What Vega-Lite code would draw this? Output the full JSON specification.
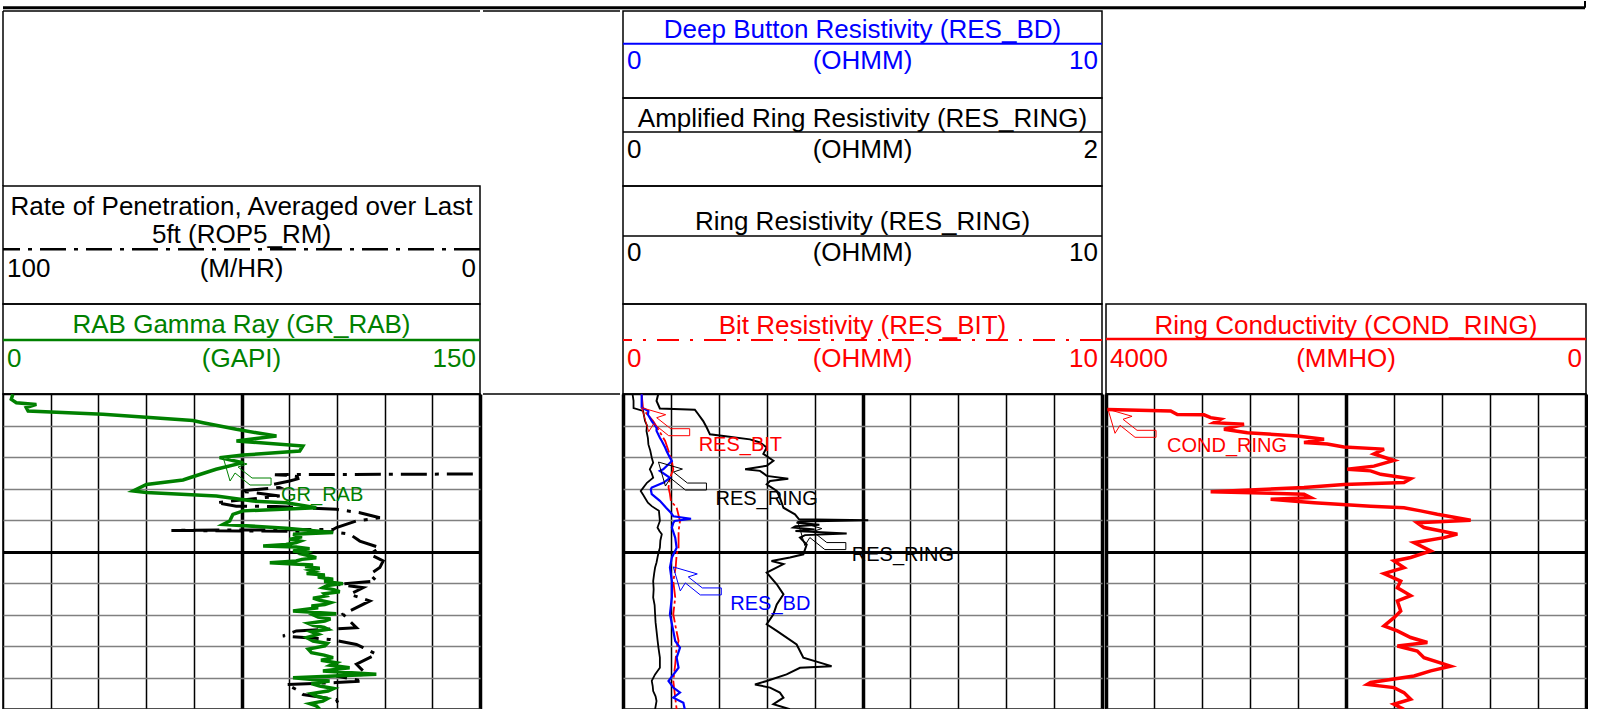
{
  "$schema": "https://vega.github.io/schema/vega-lite/v6.json",
  "padding": {"left": 1, "top": 0, "right": 0, "bottom": 0},
  "background": "white",
  "config": {
    "font": "Liberation Sans",
    "text": {"font": "Liberation Sans"},
    "view": {"stroke": "#000000", "strokeWidth": 1.5},
    "concat": {"spacing": 0}
  },
  "datasets": {
    "headers": [
      {"curve": "ROP5_RM", "title": "Rate of Penetration, Averaged over Last", "title2": "5ft (ROP5_RM)", "unit": "(M/HR)", "left": "100", "right": "0"},
      {"curve": "GR_RAB", "title": "RAB Gamma Ray (GR_RAB)", "unit": "(GAPI)", "left": "0", "right": "150"},
      {"curve": "RES_BD", "title": "Deep Button Resistivity (RES_BD)", "unit": "(OHMM)", "left": "0", "right": "10"},
      {"curve": "RES_RING_AMP", "title": "Amplified Ring Resistivity (RES_RING)", "unit": "(OHMM)", "left": "0", "right": "2"},
      {"curve": "RES_RING", "title": "Ring Resistivity (RES_RING)", "unit": "(OHMM)", "left": "0", "right": "10"},
      {"curve": "RES_BIT", "title": "Bit Resistivity (RES_BIT)", "unit": "(OHMM)", "left": "0", "right": "10"},
      {"curve": "COND_RING", "title": "Ring Conductivity (COND_RING)", "unit": "(MMHO)", "left": "4000", "right": "0"}
    ],
    "callouts": [
      {"track": "gr", "label": "GR_RAB", "DEPTH": 20.0, "value": 69.2},
      {"track": "res10", "label": "RES_BIT", "DEPTH": 4.35, "value": 0.39},
      {"track": "res10", "label": "RES_RING", "DEPTH": 21.6, "value": 0.74},
      {"track": "res2", "label": "RES_RING", "DEPTH": 40.5, "value": 0.73},
      {"track": "res10", "label": "RES_BD", "DEPTH": 54.9, "value": 1.05},
      {"track": "cond", "label": "COND_RING", "DEPTH": 4.86, "value": 3983}
    ],
    "gr": [
      {"DEPTH":0.1,"GR_RAB":3.1},{"DEPTH":1.7,"GR_RAB":2.6},{"DEPTH":2.8,"GR_RAB":4.2},{"DEPTH":3.3,"GR_RAB":10.5},{"DEPTH":4.3,"GR_RAB":7.3},{"DEPTH":5.4,"GR_RAB":7.9},{"DEPTH":6.4,"GR_RAB":31.4},{"DEPTH":8.4,"GR_RAB":59.7},{"DEPTH":9.1,"GR_RAB":62.9},{"DEPTH":11.2,"GR_RAB":73.4},{"DEPTH":12.3,"GR_RAB":79.7},{"DEPTH":13.3,"GR_RAB":86},{"DEPTH":14.9,"GR_RAB":73.4},{"DEPTH":16.5,"GR_RAB":94.3},{"DEPTH":18.1,"GR_RAB":93.3},{"DEPTH":19.4,"GR_RAB":75.5},{"DEPTH":20.2,"GR_RAB":68.1},{"DEPTH":21.8,"GR_RAB":75.5},{"DEPTH":23.9,"GR_RAB":67},{"DEPTH":26.6,"GR_RAB":58.7},{"DEPTH":27.3,"GR_RAB":56.6},{"DEPTH":28.7,"GR_RAB":45.1},{"DEPTH":30.8,"GR_RAB":40.9},{"DEPTH":31.3,"GR_RAB":45.1},{"DEPTH":32.4,"GR_RAB":67.1},{"DEPTH":34,"GR_RAB":78.6},{"DEPTH":34.5,"GR_RAB":89.1},{"DEPTH":36.1,"GR_RAB":98.5},{"DEPTH":37.1,"GR_RAB":75.5},{"DEPTH":38.2,"GR_RAB":72.3},{"DEPTH":40.3,"GR_RAB":71.3},{"DEPTH":41.4,"GR_RAB":69.2},{"DEPTH":42.6,"GR_RAB":89.1},{"DEPTH":44,"GR_RAB":103.8},
      {"DEPTH":44.55,"GR_RAB":91.2},{"DEPTH":45.3,"GR_RAB":94},{"DEPTH":46.14,"GR_RAB":90.1},{"DEPTH":46.7,"GR_RAB":93.5},{"DEPTH":47.2,"GR_RAB":92.2},{"DEPTH":47.8,"GR_RAB":89},{"DEPTH":48.25,"GR_RAB":81.8},{"DEPTH":48.57,"GR_RAB":92.2},{"DEPTH":49.1,"GR_RAB":96.4},{"DEPTH":49.84,"GR_RAB":91.2},{"DEPTH":50.4,"GR_RAB":95.5},{"DEPTH":50.9,"GR_RAB":94.3},{"DEPTH":51.5,"GR_RAB":97},{"DEPTH":51.96,"GR_RAB":98.5},{"DEPTH":52.5,"GR_RAB":94},{"DEPTH":53.0,"GR_RAB":92.2},{"DEPTH":53.54,"GR_RAB":83.9},{"DEPTH":54.28,"GR_RAB":97.5},{"DEPTH":54.8,"GR_RAB":95},{"DEPTH":55.3,"GR_RAB":99.6},{"DEPTH":55.9,"GR_RAB":96.5},{"DEPTH":56.4,"GR_RAB":98.0},{"DEPTH":57.0,"GR_RAB":95.5},{"DEPTH":57.46,"GR_RAB":101.2},{"DEPTH":58.1,"GR_RAB":99},{"DEPTH":58.8,"GR_RAB":103.8},{"DEPTH":59.5,"GR_RAB":101},{"DEPTH":60.2,"GR_RAB":106.9},{"DEPTH":60.8,"GR_RAB":102},{"DEPTH":61.48,"GR_RAB":100.6},{"DEPTH":62.1,"GR_RAB":104},{"DEPTH":62.75,"GR_RAB":105.9},{"DEPTH":63.4,"GR_RAB":101},{"DEPTH":64.1,"GR_RAB":101.7},{"DEPTH":64.8,"GR_RAB":97.5},{"DEPTH":65.5,"GR_RAB":99.6},{"DEPTH":66.2,"GR_RAB":103},{"DEPTH":66.8,"GR_RAB":101.2},{"DEPTH":67.3,"GR_RAB":97},{"DEPTH":67.83,"GR_RAB":99.1},{"DEPTH":68.9,"GR_RAB":91.2},{"DEPTH":69.73,"GR_RAB":104.8},{"DEPTH":70.3,"GR_RAB":98},{"DEPTH":70.8,"GR_RAB":99.1},{"DEPTH":71.4,"GR_RAB":103},{"DEPTH":72.06,"GR_RAB":101.2},{"DEPTH":72.8,"GR_RAB":96},{"DEPTH":73.44,"GR_RAB":97.5},{"DEPTH":74.1,"GR_RAB":101},{"DEPTH":74.7,"GR_RAB":102.2},{"DEPTH":75.5,"GR_RAB":97},{"DEPTH":76.3,"GR_RAB":99.1},{"DEPTH":77.3,"GR_RAB":95.5},{"DEPTH":78.4,"GR_RAB":97.5},{"DEPTH":79.2,"GR_RAB":102},{"DEPTH":80.0,"GR_RAB":101.2},{"DEPTH":81.0,"GR_RAB":96},{"DEPTH":82.1,"GR_RAB":97.0},{"DEPTH":82.9,"GR_RAB":101},{"DEPTH":83.7,"GR_RAB":103.8},{"DEPTH":84.5,"GR_RAB":100},{"DEPTH":85.3,"GR_RAB":104.8},{"DEPTH":86.1,"GR_RAB":103},{"DEPTH":86.9,"GR_RAB":109.0},{"DEPTH":87.9,"GR_RAB":100.6},{"DEPTH":89.0,"GR_RAB":117.4},{"DEPTH":90.05,"GR_RAB":91.2},{"DEPTH":91.1,"GR_RAB":102.7},{"DEPTH":91.9,"GR_RAB":97},{"DEPTH":92.7,"GR_RAB":99.6},{"DEPTH":93.5,"GR_RAB":104},{"DEPTH":94.3,"GR_RAB":102.2},{"DEPTH":95.1,"GR_RAB":97},{"DEPTH":95.9,"GR_RAB":98.5},{"DEPTH":96.7,"GR_RAB":102},{"DEPTH":97.5,"GR_RAB":100.6},{"DEPTH":98.3,"GR_RAB":96.5},{"DEPTH":99.0,"GR_RAB":98.5},{"DEPTH":100.1,"GR_RAB":99.6}
    ],
    "rop": [
      {"DEPTH":25.4,"ROP5_RM":1.5},{"DEPTH":25.6,"ROP5_RM":43.0},{"DEPTH":26.0,"ROP5_RM":39.2},{"DEPTH":26.5,"ROP5_RM":37.1},{"DEPTH":27.6,"ROP5_RM":39.9},{"DEPTH":28.7,"ROP5_RM":43.4},{"DEPTH":29.7,"ROP5_RM":42},{"DEPTH":30.8,"ROP5_RM":50.4},{"DEPTH":31.8,"ROP5_RM":44.8},{"DEPTH":32.4,"ROP5_RM":42},{"DEPTH":34.5,"ROP5_RM":55.3},{"DEPTH":35.6,"ROP5_RM":51.1},{"DEPTH":35.7,"ROP5_RM":42.7},{"DEPTH":36.1,"ROP5_RM":37.1},{"DEPTH":36.6,"ROP5_RM":30.1},{"DEPTH":37.7,"ROP5_RM":25.2},{"DEPTH":39.3,"ROP5_RM":21},{"DEPTH":40.3,"ROP5_RM":25.9},{"DEPTH":42.4,"ROP5_RM":30.1},{"DEPTH":43.0,"ROP5_RM":30.8},{"DEPTH":43.3,"ROP5_RM":64.7},{"DEPTH":43.7,"ROP5_RM":30.8},{"DEPTH":44.5,"ROP5_RM":27.3},{"DEPTH":46.7,"ROP5_RM":25.2},{"DEPTH":48.8,"ROP5_RM":21},{"DEPTH":50.9,"ROP5_RM":23.1},{"DEPTH":53,"ROP5_RM":20.3},{"DEPTH":55.1,"ROP5_RM":21},{"DEPTH":57.2,"ROP5_RM":23.1},{"DEPTH":59.4,"ROP5_RM":21.7},{"DEPTH":60.4,"ROP5_RM":30.1},{"DEPTH":61.5,"ROP5_RM":24.5},{"DEPTH":63.6,"ROP5_RM":27.3},{"DEPTH":65.7,"ROP5_RM":23.1},{"DEPTH":67.8,"ROP5_RM":25.9},{"DEPTH":69.9,"ROP5_RM":28.7},{"DEPTH":72.1,"ROP5_RM":27.3},{"DEPTH":74.2,"ROP5_RM":25.9},{"DEPTH":75.2,"ROP5_RM":38.5},{"DEPTH":76.8,"ROP5_RM":41.3},{"DEPTH":77.9,"ROP5_RM":31.5},{"DEPTH":79.5,"ROP5_RM":25.9},{"DEPTH":80.5,"ROP5_RM":24.5},{"DEPTH":82.6,"ROP5_RM":21.7},{"DEPTH":85.8,"ROP5_RM":25.9},{"DEPTH":89,"ROP5_RM":23.8},{"DEPTH":89.5,"ROP5_RM":30.1},{"DEPTH":91.1,"ROP5_RM":24.5},{"DEPTH":91.6,"ROP5_RM":30.1},{"DEPTH":92.2,"ROP5_RM":40.6},{"DEPTH":93.8,"ROP5_RM":38.5},{"DEPTH":95.4,"ROP5_RM":37.1},{"DEPTH":97,"ROP5_RM":30.1},{"DEPTH":99.6,"ROP5_RM":29.4}
    ],
    "bd": [
      {"DEPTH":0.1,"RES_BD":0.39},{"DEPTH":4.3,"RES_BD":0.39},{"DEPTH":5.4,"RES_BD":0.53},{"DEPTH":6.5,"RES_BD":0.52},{"DEPTH":8.6,"RES_BD":0.6},{"DEPTH":10.7,"RES_BD":0.7},{"DEPTH":11.7,"RES_BD":0.7},{"DEPTH":13.9,"RES_BD":0.77},{"DEPTH":14.9,"RES_BD":0.81},{"DEPTH":17.0,"RES_BD":0.88},{"DEPTH":18.1,"RES_BD":0.91},{"DEPTH":20.2,"RES_BD":0.98},{"DEPTH":21.3,"RES_BD":1.02},{"DEPTH":22.3,"RES_BD":0.95},{"DEPTH":23.9,"RES_BD":0.84},{"DEPTH":24.4,"RES_BD":0.77},{"DEPTH":26.6,"RES_BD":0.98},{"DEPTH":28.1,"RES_BD":0.85},{"DEPTH":29.7,"RES_BD":0.6},{"DEPTH":30.3,"RES_BD":0.58},{"DEPTH":31.8,"RES_BD":0.6},{"DEPTH":33.9,"RES_BD":0.77},{"DEPTH":36.1,"RES_BD":0.9},{"DEPTH":37.7,"RES_BD":1.0},{"DEPTH":38.8,"RES_BD":1.05},{"DEPTH":39.6,"RES_BD":1.42},{"DEPTH":40.3,"RES_BD":1.08},{"DEPTH":40.9,"RES_BD":1.05},{"DEPTH":42.4,"RES_BD":1.02},{"DEPTH":45.6,"RES_BD":1.09},{"DEPTH":48.8,"RES_BD":1.12},{"DEPTH":51.9,"RES_BD":1.02},{"DEPTH":55.1,"RES_BD":0.98},{"DEPTH":59.4,"RES_BD":1.02},{"DEPTH":64.6,"RES_BD":1.02},{"DEPTH":69.9,"RES_BD":0.98},{"DEPTH":75.2,"RES_BD":1.05},{"DEPTH":78.4,"RES_BD":1.09},{"DEPTH":80.5,"RES_BD":1.19},{"DEPTH":83.7,"RES_BD":1.12},{"DEPTH":86.9,"RES_BD":1.16},{"DEPTH":91.1,"RES_BD":0.95},{"DEPTH":93.2,"RES_BD":1.05},{"DEPTH":94.8,"RES_BD":1.19},{"DEPTH":96.4,"RES_BD":1.05},{"DEPTH":98,"RES_BD":1.26},{"DEPTH":100.1,"RES_BD":1.29}
    ],
    "bit": [
      {"DEPTH":0.1,"RES_BIT":0.39},{"DEPTH":4.9,"RES_BIT":0.42},{"DEPTH":8.6,"RES_BIT":0.63},{"DEPTH":14.9,"RES_BIT":0.88},{"DEPTH":21.2,"RES_BIT":1.02},{"DEPTH":24,"RES_BIT":1.05},{"DEPTH":26.6,"RES_BIT":0.98},{"DEPTH":29.7,"RES_BIT":0.95},{"DEPTH":31.8,"RES_BIT":0.98},{"DEPTH":34,"RES_BIT":1.0},{"DEPTH":36.1,"RES_BIT":1.12},{"DEPTH":40.3,"RES_BIT":1.19},{"DEPTH":43.5,"RES_BIT":1.16},{"DEPTH":48.8,"RES_BIT":1.16},{"DEPTH":50.9,"RES_BIT":1.12},{"DEPTH":55,"RES_BIT":1.1},{"DEPTH":59.4,"RES_BIT":1.05},{"DEPTH":64.6,"RES_BIT":1.09},{"DEPTH":69.9,"RES_BIT":1.05},{"DEPTH":74,"RES_BIT":1.1},{"DEPTH":78.4,"RES_BIT":1.16},{"DEPTH":80.5,"RES_BIT":1.12},{"DEPTH":85.8,"RES_BIT":1.09},{"DEPTH":91.1,"RES_BIT":1.05},{"DEPTH":96.4,"RES_BIT":1.09},{"DEPTH":100.1,"RES_BIT":1.12}
    ],
    "ring": [
      {"DEPTH":0.1,"RES_RING":0.2},{"DEPTH":2.2,"RES_RING":0.22},{"DEPTH":4.5,"RES_RING":0.22},{"DEPTH":5.4,"RES_RING":0.42},{"DEPTH":7,"RES_RING":0.44},{"DEPTH":8.6,"RES_RING":0.46},{"DEPTH":10,"RES_RING":0.5},{"DEPTH":11.7,"RES_RING":0.49},{"DEPTH":14,"RES_RING":0.52},{"DEPTH":16,"RES_RING":0.53},{"DEPTH":18,"RES_RING":0.57},{"DEPTH":20.2,"RES_RING":0.6},{"DEPTH":21.8,"RES_RING":0.63},{"DEPTH":23.9,"RES_RING":0.56},{"DEPTH":25.2,"RES_RING":0.6},{"DEPTH":26.6,"RES_RING":0.63},{"DEPTH":28.2,"RES_RING":0.5},{"DEPTH":29.8,"RES_RING":0.42},{"DEPTH":30.8,"RES_RING":0.37},{"DEPTH":32,"RES_RING":0.42},{"DEPTH":33,"RES_RING":0.46},{"DEPTH":34.5,"RES_RING":0.52},{"DEPTH":35.6,"RES_RING":0.6},{"DEPTH":37.1,"RES_RING":0.75},{"DEPTH":38.7,"RES_RING":0.76},{"DEPTH":40.3,"RES_RING":0.77},{"DEPTH":42.4,"RES_RING":0.72},{"DEPTH":43.5,"RES_RING":0.76},{"DEPTH":44.5,"RES_RING":0.81},{"DEPTH":46.5,"RES_RING":0.78},{"DEPTH":48.8,"RES_RING":0.77},{"DEPTH":50.5,"RES_RING":0.74},{"DEPTH":51.9,"RES_RING":0.72},{"DEPTH":53.5,"RES_RING":0.7},{"DEPTH":55.1,"RES_RING":0.67},{"DEPTH":57,"RES_RING":0.65},{"DEPTH":59.4,"RES_RING":0.63},{"DEPTH":62,"RES_RING":0.64},{"DEPTH":64.6,"RES_RING":0.63},{"DEPTH":67,"RES_RING":0.66},{"DEPTH":69.9,"RES_RING":0.67},{"DEPTH":72.5,"RES_RING":0.68},{"DEPTH":75.2,"RES_RING":0.7},{"DEPTH":78,"RES_RING":0.72},{"DEPTH":80.5,"RES_RING":0.74},{"DEPTH":83.7,"RES_RING":0.77},{"DEPTH":86.9,"RES_RING":0.77},{"DEPTH":89,"RES_RING":0.67},{"DEPTH":91.1,"RES_RING":0.6},{"DEPTH":92.7,"RES_RING":0.62},{"DEPTH":94.3,"RES_RING":0.63},{"DEPTH":96,"RES_RING":0.68},{"DEPTH":97.5,"RES_RING":0.7},{"DEPTH":100.1,"RES_RING":0.67}
    ],
    "ringa": [
      {"DEPTH":0.1,"RES_RING":0.147},{"DEPTH":2.2,"RES_RING":0.14},{"DEPTH":4.6,"RES_RING":0.154},{"DEPTH":5.0,"RES_RING":0.30},{"DEPTH":6.5,"RES_RING":0.315},{"DEPTH":8.6,"RES_RING":0.335},{"DEPTH":10.7,"RES_RING":0.35},{"DEPTH":12.8,"RES_RING":0.363},{"DEPTH":13.3,"RES_RING":0.42},{"DEPTH":14.4,"RES_RING":0.53},{"DEPTH":15.4,"RES_RING":0.572},{"DEPTH":17.0,"RES_RING":0.6},{"DEPTH":19.0,"RES_RING":0.586},{"DEPTH":21.2,"RES_RING":0.628},{"DEPTH":22.8,"RES_RING":0.6},{"DEPTH":23.9,"RES_RING":0.51},{"DEPTH":24.4,"RES_RING":0.572},{"DEPTH":26.0,"RES_RING":0.6},{"DEPTH":26.9,"RES_RING":0.69},{"DEPTH":27.6,"RES_RING":0.614},{"DEPTH":28.7,"RES_RING":0.6},{"DEPTH":30.8,"RES_RING":0.642},{"DEPTH":32.9,"RES_RING":0.655},{"DEPTH":36.1,"RES_RING":0.67},{"DEPTH":38.2,"RES_RING":0.718},{"DEPTH":39.8,"RES_RING":0.735},{"DEPTH":40.1,"RES_RING":1.024},{"DEPTH":40.5,"RES_RING":0.74},{"DEPTH":40.9,"RES_RING":0.725},{"DEPTH":41.5,"RES_RING":0.82},{"DEPTH":42.0,"RES_RING":0.72},{"DEPTH":42.4,"RES_RING":0.711},{"DEPTH":43.0,"RES_RING":0.80},{"DEPTH":43.5,"RES_RING":0.72},{"DEPTH":44.3,"RES_RING":0.934},{"DEPTH":44.8,"RES_RING":0.76},{"DEPTH":45.6,"RES_RING":0.739},{"DEPTH":47.8,"RES_RING":0.767},{"DEPTH":50.9,"RES_RING":0.753},{"DEPTH":51.9,"RES_RING":0.697},{"DEPTH":53,"RES_RING":0.62},{"DEPTH":54,"RES_RING":0.67},{"DEPTH":56.7,"RES_RING":0.6},{"DEPTH":60.4,"RES_RING":0.642},{"DEPTH":63.6,"RES_RING":0.67},{"DEPTH":66.8,"RES_RING":0.642},{"DEPTH":69.9,"RES_RING":0.628},{"DEPTH":73.1,"RES_RING":0.6},{"DEPTH":75.2,"RES_RING":0.642},{"DEPTH":79.5,"RES_RING":0.725},{"DEPTH":83.7,"RES_RING":0.753},{"DEPTH":86.4,"RES_RING":0.871},{"DEPTH":86.9,"RES_RING":0.739},{"DEPTH":89,"RES_RING":0.683},{"DEPTH":91.1,"RES_RING":0.6},{"DEPTH":92.2,"RES_RING":0.551},{"DEPTH":93.2,"RES_RING":0.614},{"DEPTH":94.8,"RES_RING":0.655},{"DEPTH":96.4,"RES_RING":0.67},{"DEPTH":98.5,"RES_RING":0.628},{"DEPTH":100.1,"RES_RING":0.697}
    ],
    "cond": [
      {"DEPTH":4.9,"COND_RING":3989},{"DEPTH":5.4,"COND_RING":3461},{"DEPTH":6.5,"COND_RING":3406},{"DEPTH":6.6,"COND_RING":3183},{"DEPTH":7.5,"COND_RING":3128},{"DEPTH":8.0,"COND_RING":3044},{"DEPTH":9.1,"COND_RING":3100},{"DEPTH":9.6,"COND_RING":2850},{"DEPTH":11.2,"COND_RING":3017},{"DEPTH":12.3,"COND_RING":2822},{"DEPTH":13.3,"COND_RING":2406},{"DEPTH":14.4,"COND_RING":2183},{"DEPTH":15.4,"COND_RING":2350},{"DEPTH":15.9,"COND_RING":2156},{"DEPTH":16.8,"COND_RING":2017},{"DEPTH":17.5,"COND_RING":1683},{"DEPTH":19.0,"COND_RING":1767},{"DEPTH":21.1,"COND_RING":1600},{"DEPTH":22.9,"COND_RING":1767},{"DEPTH":23.9,"COND_RING":1989},{"DEPTH":24.4,"COND_RING":1795},{"DEPTH":25.5,"COND_RING":1711},{"DEPTH":26.9,"COND_RING":1461},{"DEPTH":28.1,"COND_RING":1517},{"DEPTH":28.7,"COND_RING":2017},{"DEPTH":29.7,"COND_RING":2350},{"DEPTH":31.0,"COND_RING":3128},{"DEPTH":31.8,"COND_RING":2350},{"DEPTH":32.9,"COND_RING":2294},{"DEPTH":33.4,"COND_RING":2628},{"DEPTH":34.5,"COND_RING":2267},{"DEPTH":35.6,"COND_RING":1795},{"DEPTH":36.1,"COND_RING":1517},{"DEPTH":37.1,"COND_RING":1378},{"DEPTH":38.2,"COND_RING":1239},{"DEPTH":40.1,"COND_RING":961},{"DEPTH":40.9,"COND_RING":1406},{"DEPTH":42.4,"COND_RING":1350},{"DEPTH":44.5,"COND_RING":1072},{"DEPTH":45.6,"COND_RING":1183},{"DEPTH":47.2,"COND_RING":1433},{"DEPTH":49.8,"COND_RING":1294},{"DEPTH":51.9,"COND_RING":1461},{"DEPTH":53.0,"COND_RING":1600},{"DEPTH":55.1,"COND_RING":1517},{"DEPTH":57.0,"COND_RING":1683},{"DEPTH":59.4,"COND_RING":1544},{"DEPTH":61.5,"COND_RING":1572},{"DEPTH":64.0,"COND_RING":1461},{"DEPTH":65.7,"COND_RING":1572},{"DEPTH":68.9,"COND_RING":1544},{"DEPTH":71.0,"COND_RING":1600},{"DEPTH":73.6,"COND_RING":1683},{"DEPTH":75.2,"COND_RING":1572},{"DEPTH":77.3,"COND_RING":1461},{"DEPTH":78.9,"COND_RING":1322},{"DEPTH":80.0,"COND_RING":1572},{"DEPTH":81.6,"COND_RING":1406},{"DEPTH":83.7,"COND_RING":1350},{"DEPTH":86.4,"COND_RING":1128},{"DEPTH":87.9,"COND_RING":1294},{"DEPTH":89.5,"COND_RING":1433},{"DEPTH":91.6,"COND_RING":1795},{"DEPTH":92.2,"COND_RING":1822},{"DEPTH":93.2,"COND_RING":1600},{"DEPTH":94.8,"COND_RING":1517},{"DEPTH":96.9,"COND_RING":1461},{"DEPTH":98.5,"COND_RING":1600},{"DEPTH":100.1,"COND_RING":1517}
    ]
  },
  "spacing": 0,
  "vconcat": [
    {
      "width": 1582, "height": 8, "view": {"stroke": null}, "data": {"values": [{}]},
      "layer": [
        {"mark": {"type": "rule", "color": "#000000", "strokeWidth": 3}, "encoding": {"y": {"datum": 0.84, "type": "quantitative", "scale": {"domain": [0, 1], "reverse": true}, "axis": null}}},
        {"mark": {"type": "rule", "color": "#000000", "strokeWidth": 2}, "encoding": {"x": {"datum": 1, "type": "quantitative", "scale": {"domain": [0, 1]}, "axis": null}, "y": {"datum": 0, "type": "quantitative", "scale": {"domain": [0, 1], "reverse": true}, "axis": null}, "y2": {"datum": 0.84}}}
      ]
    },
    {
      "hconcat": [
        {
          "vconcat": [
            {
              "width": 477, "height": 175, "view": {"stroke": null}, "data": {"values": [{}]},
              "layer": [
                {"mark": {"type": "rule", "color": "#000000", "strokeWidth": 1.5}, "encoding": {"y": {"datum": 0, "type": "quantitative", "scale": {"domain": [0, 1], "reverse": true}, "axis": null}}},
                {"mark": {"type": "rule", "color": "#000000", "strokeWidth": 1.5}, "encoding": {"x": {"datum": 0, "type": "quantitative", "scale": {"domain": [0, 1]}, "axis": null}}}
              ]
            },
            {
              "width": 477, "height": 118, "data": {"name": "headers"}, "transform": [{"filter": "datum.curve === 'ROP5_RM'"}],
              "layer": [
                {"mark": {"type": "text", "fontSize": 26, "color": "#000000", "align": "center", "baseline": "middle"}, "encoding": {"text": {"field": "title"}, "x": {"datum": 0.5, "type": "quantitative", "scale": {"domain": [0, 1]}, "axis": null}, "y": {"datum": 0.182, "type": "quantitative", "scale": {"domain": [0, 1], "reverse": true}, "axis": null}}},
                {"mark": {"type": "text", "fontSize": 26, "color": "#000000", "align": "center", "baseline": "middle"}, "encoding": {"text": {"field": "title2"}, "x": {"datum": 0.5, "type": "quantitative", "scale": {"domain": [0, 1]}, "axis": null}, "y": {"datum": 0.419, "type": "quantitative", "scale": {"domain": [0, 1], "reverse": true}, "axis": null}}},
                {"mark": {"type": "rule", "color": "#000000", "strokeWidth": 2.5, "strokeDash": [26, 8, 4, 8]}, "encoding": {"y": {"datum": 0.536, "type": "quantitative", "scale": {"domain": [0, 1], "reverse": true}, "axis": null}}},
                {"mark": {"type": "text", "fontSize": 26, "color": "#000000", "align": "left", "dx": 4, "baseline": "middle"}, "encoding": {"text": {"field": "left"}, "x": {"datum": 0, "type": "quantitative", "scale": {"domain": [0, 1]}, "axis": null}, "y": {"datum": 0.703, "type": "quantitative", "scale": {"domain": [0, 1], "reverse": true}, "axis": null}}},
                {"mark": {"type": "text", "fontSize": 26, "color": "#000000", "align": "center", "baseline": "middle"}, "encoding": {"text": {"field": "unit"}, "x": {"datum": 0.5, "type": "quantitative", "scale": {"domain": [0, 1]}, "axis": null}, "y": {"datum": 0.703, "type": "quantitative", "scale": {"domain": [0, 1], "reverse": true}, "axis": null}}},
                {"mark": {"type": "text", "fontSize": 26, "color": "#000000", "align": "right", "dx": -4, "baseline": "middle"}, "encoding": {"text": {"field": "right"}, "x": {"datum": 1, "type": "quantitative", "scale": {"domain": [0, 1]}, "axis": null}, "y": {"datum": 0.703, "type": "quantitative", "scale": {"domain": [0, 1], "reverse": true}, "axis": null}}}
              ]
            },
            {
              "width": 477, "height": 90, "data": {"name": "headers"}, "transform": [{"filter": "datum.curve === 'GR_RAB'"}],
              "layer": [
                {"mark": {"type": "text", "fontSize": 26, "color": "#008000", "align": "center", "baseline": "middle"}, "encoding": {"text": {"field": "title"}, "x": {"datum": 0.5, "type": "quantitative", "scale": {"domain": [0, 1]}, "axis": null}, "y": {"datum": 0.233, "type": "quantitative", "scale": {"domain": [0, 1], "reverse": true}, "axis": null}}},
                {"mark": {"type": "rule", "color": "#008000", "strokeWidth": 2.5}, "encoding": {"y": {"datum": 0.4, "type": "quantitative", "scale": {"domain": [0, 1], "reverse": true}, "axis": null}}},
                {"mark": {"type": "text", "fontSize": 26, "color": "#008000", "align": "left", "dx": 4, "baseline": "middle"}, "encoding": {"text": {"field": "left"}, "x": {"datum": 0, "type": "quantitative", "scale": {"domain": [0, 1]}, "axis": null}, "y": {"datum": 0.606, "type": "quantitative", "scale": {"domain": [0, 1], "reverse": true}, "axis": null}}},
                {"mark": {"type": "text", "fontSize": 26, "color": "#008000", "align": "center", "baseline": "middle"}, "encoding": {"text": {"field": "unit"}, "x": {"datum": 0.5, "type": "quantitative", "scale": {"domain": [0, 1]}, "axis": null}, "y": {"datum": 0.606, "type": "quantitative", "scale": {"domain": [0, 1], "reverse": true}, "axis": null}}},
                {"mark": {"type": "text", "fontSize": 26, "color": "#008000", "align": "right", "dx": -4, "baseline": "middle"}, "encoding": {"text": {"field": "right"}, "x": {"datum": 1, "type": "quantitative", "scale": {"domain": [0, 1]}, "axis": null}, "y": {"datum": 0.606, "type": "quantitative", "scale": {"domain": [0, 1], "reverse": true}, "axis": null}}}
              ]
            },
            {
              "width": 477, "height": 315,
              "encoding": {"y": {"field": "DEPTH", "type": "quantitative", "scale": {"domain": [0, 100], "reverse": true, "nice": false, "zero": false}, "axis": {"orient": "left", "values": [0,10,20,30,40,50,60,70,80,90,100], "grid": true, "labels": false, "ticks": false, "domain": false, "title": null, "gridOpacity": 1, "gridColor": {"condition": {"test": "datum.value === 50 || datum.value === 0", "value": "#000000"}, "value": "#808080"}, "gridWidth": {"condition": {"test": "datum.value === 50", "value": 3}, "value": 1.5}}}},
              "layer": [
                {"data": {"name": "rop"}, "mark": {"type": "line", "color": "#000000", "strokeWidth": 3, "strokeDash": [26, 8, 4, 8], "clip": true}, "encoding": {"x": {"field": "ROP5_RM", "type": "quantitative", "scale": {"domain": [0, 100], "reverse": true}, "axis": null}, "order": {"field": "DEPTH", "type": "quantitative"}}},
                {"data": {"name": "gr"}, "mark": {"type": "line", "color": "#008000", "strokeWidth": 3.5, "clip": true}, "encoding": {"x": {"field": "GR_RAB", "type": "quantitative", "scale": {"domain": [0, 150]}, "axis": {"orient": "top", "values": [0,15,30,45,60,75,90,105,120,135,150], "grid": true, "labels": false, "ticks": false, "domain": false, "title": null, "gridOpacity": 1, "gridColor": "#000000", "gridWidth": {"condition": {"test": "datum.value === 75 || datum.value === 150", "value": 3.5}, "value": 1.5}}}, "order": {"field": "DEPTH", "type": "quantitative"}}},
                {"data": {"name": "callouts"}, "transform": [{"filter": "datum.track === 'gr'"}], "mark": {"type": "point", "shape": "M0,0L24,7L15,10L29,21L48,21L48,28L27,28L12,16L7,24Z", "size": 4, "filled": false, "strokeWidth": 1, "opacity": 1}, "encoding": {"x": {"field": "value", "type": "quantitative", "scale": {"domain": [0, 150]}, "axis": null}, "color": {"field": "label", "type": "nominal", "scale": {"domain": ["GR_RAB","RES_BIT","RES_RING","RES_BD","COND_RING"], "range": ["#008000","#ff0000","#000000","#0000ff","#ff0000"]}, "legend": null}}},
                {"data": {"name": "callouts"}, "transform": [{"filter": "datum.track === 'gr'"}], "mark": {"type": "text", "fontSize": 20, "align": "left", "baseline": "middle", "dx": 58, "dy": 38}, "encoding": {"x": {"field": "value", "type": "quantitative", "scale": {"domain": [0, 150]}, "axis": null}, "text": {"field": "label"}, "color": {"field": "label", "type": "nominal", "scale": {"domain": ["GR_RAB","RES_BIT","RES_RING","RES_BD","COND_RING"], "range": ["#008000","#ff0000","#000000","#0000ff","#ff0000"]}, "legend": null}}}
              ],
              "resolve": {"scale": {"x": "independent"}, "axis": {"x": "independent"}}
            }
          ],
          "spacing": 0, "bounds": "flush"
        },
        {
          "vconcat": [
            {
              "width": 137, "height": 383, "view": {"stroke": null}, "data": {"values": [{}]},
              "layer": [
                {"mark": {"type": "rule", "color": "#000000", "strokeWidth": 1.5}, "encoding": {"y": {"datum": 0, "type": "quantitative", "scale": {"domain": [0, 1], "reverse": true}, "axis": null}}},
                {"mark": {"type": "rule", "color": "#000000", "strokeWidth": 1.5}, "encoding": {"y": {"datum": 1, "type": "quantitative", "scale": {"domain": [0, 1], "reverse": true}, "axis": null}}}
              ]
            },
            {
              "width": 137, "height": 315, "view": {"stroke": null}, "data": {"values": [{}]},
              "mark": {"type": "text", "text": ""}
            }
          ],
          "spacing": 0, "bounds": "flush"
        },
        {
          "vconcat": [
            {
              "width": 479, "height": 87, "data": {"name": "headers"}, "transform": [{"filter": "datum.curve === 'RES_BD'"}],
              "layer": [
                {"mark": {"type": "text", "fontSize": 26, "color": "#0000ff", "align": "center", "baseline": "middle"}, "encoding": {"text": {"field": "title"}, "x": {"datum": 0.5, "type": "quantitative", "scale": {"domain": [0, 1]}, "axis": null}, "y": {"datum": 0.218, "type": "quantitative", "scale": {"domain": [0, 1], "reverse": true}, "axis": null}}},
                {"mark": {"type": "rule", "color": "#0000ff", "strokeWidth": 2}, "encoding": {"y": {"datum": 0.376, "type": "quantitative", "scale": {"domain": [0, 1], "reverse": true}, "axis": null}}},
                {"mark": {"type": "text", "fontSize": 26, "color": "#0000ff", "align": "left", "dx": 4, "baseline": "middle"}, "encoding": {"text": {"field": "left"}, "x": {"datum": 0, "type": "quantitative", "scale": {"domain": [0, 1]}, "axis": null}, "y": {"datum": 0.58, "type": "quantitative", "scale": {"domain": [0, 1], "reverse": true}, "axis": null}}},
                {"mark": {"type": "text", "fontSize": 26, "color": "#0000ff", "align": "center", "baseline": "middle"}, "encoding": {"text": {"field": "unit"}, "x": {"datum": 0.5, "type": "quantitative", "scale": {"domain": [0, 1]}, "axis": null}, "y": {"datum": 0.58, "type": "quantitative", "scale": {"domain": [0, 1], "reverse": true}, "axis": null}}},
                {"mark": {"type": "text", "fontSize": 26, "color": "#0000ff", "align": "right", "dx": -4, "baseline": "middle"}, "encoding": {"text": {"field": "right"}, "x": {"datum": 1, "type": "quantitative", "scale": {"domain": [0, 1]}, "axis": null}, "y": {"datum": 0.58, "type": "quantitative", "scale": {"domain": [0, 1], "reverse": true}, "axis": null}}}
              ]
            },
            {
              "width": 479, "height": 88, "data": {"name": "headers"}, "transform": [{"filter": "datum.curve === 'RES_RING_AMP'"}],
              "layer": [
                {"mark": {"type": "text", "fontSize": 26, "color": "#000000", "align": "center", "baseline": "middle"}, "encoding": {"text": {"field": "title"}, "x": {"datum": 0.5, "type": "quantitative", "scale": {"domain": [0, 1]}, "axis": null}, "y": {"datum": 0.241, "type": "quantitative", "scale": {"domain": [0, 1], "reverse": true}, "axis": null}}},
                {"mark": {"type": "rule", "color": "#000000", "strokeWidth": 1.5}, "encoding": {"y": {"datum": 0.386, "type": "quantitative", "scale": {"domain": [0, 1], "reverse": true}, "axis": null}}},
                {"mark": {"type": "text", "fontSize": 26, "color": "#000000", "align": "left", "dx": 4, "baseline": "middle"}, "encoding": {"text": {"field": "left"}, "x": {"datum": 0, "type": "quantitative", "scale": {"domain": [0, 1]}, "axis": null}, "y": {"datum": 0.591, "type": "quantitative", "scale": {"domain": [0, 1], "reverse": true}, "axis": null}}},
                {"mark": {"type": "text", "fontSize": 26, "color": "#000000", "align": "center", "baseline": "middle"}, "encoding": {"text": {"field": "unit"}, "x": {"datum": 0.5, "type": "quantitative", "scale": {"domain": [0, 1]}, "axis": null}, "y": {"datum": 0.591, "type": "quantitative", "scale": {"domain": [0, 1], "reverse": true}, "axis": null}}},
                {"mark": {"type": "text", "fontSize": 26, "color": "#000000", "align": "right", "dx": -4, "baseline": "middle"}, "encoding": {"text": {"field": "right"}, "x": {"datum": 1, "type": "quantitative", "scale": {"domain": [0, 1]}, "axis": null}, "y": {"datum": 0.591, "type": "quantitative", "scale": {"domain": [0, 1], "reverse": true}, "axis": null}}}
              ]
            },
            {
              "width": 479, "height": 118, "data": {"name": "headers"}, "transform": [{"filter": "datum.curve === 'RES_RING'"}],
              "layer": [
                {"mark": {"type": "text", "fontSize": 26, "color": "#000000", "align": "center", "baseline": "middle"}, "encoding": {"text": {"field": "title"}, "x": {"datum": 0.5, "type": "quantitative", "scale": {"domain": [0, 1]}, "axis": null}, "y": {"datum": 0.309, "type": "quantitative", "scale": {"domain": [0, 1], "reverse": true}, "axis": null}}},
                {"mark": {"type": "rule", "color": "#000000", "strokeWidth": 1.5}, "encoding": {"y": {"datum": 0.424, "type": "quantitative", "scale": {"domain": [0, 1], "reverse": true}, "axis": null}}},
                {"mark": {"type": "text", "fontSize": 26, "color": "#000000", "align": "left", "dx": 4, "baseline": "middle"}, "encoding": {"text": {"field": "left"}, "x": {"datum": 0, "type": "quantitative", "scale": {"domain": [0, 1]}, "axis": null}, "y": {"datum": 0.572, "type": "quantitative", "scale": {"domain": [0, 1], "reverse": true}, "axis": null}}},
                {"mark": {"type": "text", "fontSize": 26, "color": "#000000", "align": "center", "baseline": "middle"}, "encoding": {"text": {"field": "unit"}, "x": {"datum": 0.5, "type": "quantitative", "scale": {"domain": [0, 1]}, "axis": null}, "y": {"datum": 0.572, "type": "quantitative", "scale": {"domain": [0, 1], "reverse": true}, "axis": null}}},
                {"mark": {"type": "text", "fontSize": 26, "color": "#000000", "align": "right", "dx": -4, "baseline": "middle"}, "encoding": {"text": {"field": "right"}, "x": {"datum": 1, "type": "quantitative", "scale": {"domain": [0, 1]}, "axis": null}, "y": {"datum": 0.572, "type": "quantitative", "scale": {"domain": [0, 1], "reverse": true}, "axis": null}}}
              ]
            },
            {
              "width": 479, "height": 90, "data": {"name": "headers"}, "transform": [{"filter": "datum.curve === 'RES_BIT'"}],
              "layer": [
                {"mark": {"type": "text", "fontSize": 26, "color": "#ff0000", "align": "center", "baseline": "middle"}, "encoding": {"text": {"field": "title"}, "x": {"datum": 0.5, "type": "quantitative", "scale": {"domain": [0, 1]}, "axis": null}, "y": {"datum": 0.239, "type": "quantitative", "scale": {"domain": [0, 1], "reverse": true}, "axis": null}}},
                {"mark": {"type": "rule", "color": "#ff0000", "strokeWidth": 2, "strokeDash": [22, 11, 3, 11]}, "encoding": {"y": {"datum": 0.4, "type": "quantitative", "scale": {"domain": [0, 1], "reverse": true}, "axis": null}}},
                {"mark": {"type": "text", "fontSize": 26, "color": "#ff0000", "align": "left", "dx": 4, "baseline": "middle"}, "encoding": {"text": {"field": "left"}, "x": {"datum": 0, "type": "quantitative", "scale": {"domain": [0, 1]}, "axis": null}, "y": {"datum": 0.606, "type": "quantitative", "scale": {"domain": [0, 1], "reverse": true}, "axis": null}}},
                {"mark": {"type": "text", "fontSize": 26, "color": "#ff0000", "align": "center", "baseline": "middle"}, "encoding": {"text": {"field": "unit"}, "x": {"datum": 0.5, "type": "quantitative", "scale": {"domain": [0, 1]}, "axis": null}, "y": {"datum": 0.606, "type": "quantitative", "scale": {"domain": [0, 1], "reverse": true}, "axis": null}}},
                {"mark": {"type": "text", "fontSize": 26, "color": "#ff0000", "align": "right", "dx": -4, "baseline": "middle"}, "encoding": {"text": {"field": "right"}, "x": {"datum": 1, "type": "quantitative", "scale": {"domain": [0, 1]}, "axis": null}, "y": {"datum": 0.606, "type": "quantitative", "scale": {"domain": [0, 1], "reverse": true}, "axis": null}}}
              ]
            },
            {
              "width": 479, "height": 315,
              "encoding": {"y": {"field": "DEPTH", "type": "quantitative", "scale": {"domain": [0, 100], "reverse": true, "nice": false, "zero": false}, "axis": {"orient": "left", "values": [0,10,20,30,40,50,60,70,80,90,100], "grid": true, "labels": false, "ticks": false, "domain": false, "title": null, "gridOpacity": 1, "gridColor": {"condition": {"test": "datum.value === 50 || datum.value === 0", "value": "#000000"}, "value": "#808080"}, "gridWidth": {"condition": {"test": "datum.value === 50", "value": 3}, "value": 1.5}}}},
              "layer": [
                {"data": {"name": "ring"}, "mark": {"type": "line", "color": "#000000", "strokeWidth": 1.8, "clip": true}, "encoding": {"x": {"field": "RES_RING", "type": "quantitative", "scale": {"domain": [0, 10]}, "axis": {"orient": "top", "values": [0,1,2,3,4,5,6,7,8,9,10], "grid": true, "labels": false, "ticks": false, "domain": false, "title": null, "gridOpacity": 1, "gridColor": "#000000", "gridWidth": {"condition": {"test": "datum.value === 0 || datum.value === 5 || datum.value === 10", "value": 3.5}, "value": 1.5}}}, "order": {"field": "DEPTH", "type": "quantitative"}}},
                {"data": {"name": "ringa"}, "mark": {"type": "line", "color": "#000000", "strokeWidth": 2, "clip": true}, "encoding": {"x": {"field": "RES_RING", "type": "quantitative", "scale": {"domain": [0, 2]}, "axis": null}, "order": {"field": "DEPTH", "type": "quantitative"}}},
                {"data": {"name": "bit"}, "mark": {"type": "line", "color": "#ff0000", "strokeWidth": 1.8, "strokeDash": [16, 3, 3, 3], "clip": true}, "encoding": {"x": {"field": "RES_BIT", "type": "quantitative", "scale": {"domain": [0, 10]}, "axis": null}, "order": {"field": "DEPTH", "type": "quantitative"}}},
                {"data": {"name": "bd"}, "mark": {"type": "line", "color": "#0000ff", "strokeWidth": 2.2, "clip": true}, "encoding": {"x": {"field": "RES_BD", "type": "quantitative", "scale": {"domain": [0, 10]}, "axis": null}, "order": {"field": "DEPTH", "type": "quantitative"}}},
                {"data": {"name": "callouts"}, "transform": [{"filter": "datum.track === 'res10'"}], "mark": {"type": "point", "shape": "M0,0L24,7L15,10L29,21L48,21L48,28L27,28L12,16L7,24Z", "size": 4, "filled": false, "strokeWidth": 1, "opacity": 1}, "encoding": {"x": {"field": "value", "type": "quantitative", "scale": {"domain": [0, 10]}, "axis": null}, "color": {"field": "label", "type": "nominal", "scale": {"domain": ["GR_RAB","RES_BIT","RES_RING","RES_BD","COND_RING"], "range": ["#008000","#ff0000","#000000","#0000ff","#ff0000"]}, "legend": null}}},
                {"data": {"name": "callouts"}, "transform": [{"filter": "datum.track === 'res10'"}], "mark": {"type": "text", "fontSize": 20, "align": "left", "baseline": "middle", "dx": 57, "dy": 37}, "encoding": {"x": {"field": "value", "type": "quantitative", "scale": {"domain": [0, 10]}, "axis": null}, "text": {"field": "label"}, "color": {"field": "label", "type": "nominal", "scale": {"domain": ["GR_RAB","RES_BIT","RES_RING","RES_BD","COND_RING"], "range": ["#008000","#ff0000","#000000","#0000ff","#ff0000"]}, "legend": null}}},
                {"data": {"name": "callouts"}, "transform": [{"filter": "datum.track === 'res2'"}], "mark": {"type": "point", "shape": "M0,0L24,7L15,10L29,21L48,21L48,28L27,28L12,16L7,24Z", "size": 4, "filled": false, "strokeWidth": 1, "opacity": 1}, "encoding": {"x": {"field": "value", "type": "quantitative", "scale": {"domain": [0, 2]}, "axis": null}, "color": {"field": "label", "type": "nominal", "scale": {"domain": ["GR_RAB","RES_BIT","RES_RING","RES_BD","COND_RING"], "range": ["#008000","#ff0000","#000000","#0000ff","#ff0000"]}, "legend": null}}},
                {"data": {"name": "callouts"}, "transform": [{"filter": "datum.track === 'res2'"}], "mark": {"type": "text", "fontSize": 20, "align": "left", "baseline": "middle", "dx": 54, "dy": 33}, "encoding": {"x": {"field": "value", "type": "quantitative", "scale": {"domain": [0, 2]}, "axis": null}, "text": {"field": "label"}, "color": {"field": "label", "type": "nominal", "scale": {"domain": ["GR_RAB","RES_BIT","RES_RING","RES_BD","COND_RING"], "range": ["#008000","#ff0000","#000000","#0000ff","#ff0000"]}, "legend": null}}}
              ],
              "resolve": {"scale": {"x": "independent"}, "axis": {"x": "independent"}}
            }
          ],
          "spacing": 0, "bounds": "flush"
        },
        {
          "vconcat": [
            {
              "width": 480, "height": 293, "data": {"values": [{}]},
              "mark": {"type": "text", "text": ""}
            },
            {
              "width": 480, "height": 90, "data": {"name": "headers"}, "transform": [{"filter": "datum.curve === 'COND_RING'"}],
              "layer": [
                {"mark": {"type": "text", "fontSize": 26, "color": "#ff0000", "align": "center", "baseline": "middle"}, "encoding": {"text": {"field": "title"}, "x": {"datum": 0.5, "type": "quantitative", "scale": {"domain": [0, 1]}, "axis": null}, "y": {"datum": 0.239, "type": "quantitative", "scale": {"domain": [0, 1], "reverse": true}, "axis": null}}},
                {"mark": {"type": "rule", "color": "#ff0000", "strokeWidth": 2.5}, "encoding": {"y": {"datum": 0.389, "type": "quantitative", "scale": {"domain": [0, 1], "reverse": true}, "axis": null}}},
                {"mark": {"type": "text", "fontSize": 26, "color": "#ff0000", "align": "left", "dx": 4, "baseline": "middle"}, "encoding": {"text": {"field": "left"}, "x": {"datum": 0, "type": "quantitative", "scale": {"domain": [0, 1]}, "axis": null}, "y": {"datum": 0.606, "type": "quantitative", "scale": {"domain": [0, 1], "reverse": true}, "axis": null}}},
                {"mark": {"type": "text", "fontSize": 26, "color": "#ff0000", "align": "center", "baseline": "middle"}, "encoding": {"text": {"field": "unit"}, "x": {"datum": 0.5, "type": "quantitative", "scale": {"domain": [0, 1]}, "axis": null}, "y": {"datum": 0.606, "type": "quantitative", "scale": {"domain": [0, 1], "reverse": true}, "axis": null}}},
                {"mark": {"type": "text", "fontSize": 26, "color": "#ff0000", "align": "right", "dx": -4, "baseline": "middle"}, "encoding": {"text": {"field": "right"}, "x": {"datum": 1, "type": "quantitative", "scale": {"domain": [0, 1]}, "axis": null}, "y": {"datum": 0.606, "type": "quantitative", "scale": {"domain": [0, 1], "reverse": true}, "axis": null}}}
              ]
            },
            {
              "width": 480, "height": 315,
              "encoding": {"y": {"field": "DEPTH", "type": "quantitative", "scale": {"domain": [0, 100], "reverse": true, "nice": false, "zero": false}, "axis": {"orient": "left", "values": [0,10,20,30,40,50,60,70,80,90,100], "grid": true, "labels": false, "ticks": false, "domain": false, "title": null, "gridOpacity": 1, "gridColor": {"condition": {"test": "datum.value === 50 || datum.value === 0", "value": "#000000"}, "value": "#808080"}, "gridWidth": {"condition": {"test": "datum.value === 50", "value": 3}, "value": 1.5}}}},
              "layer": [
                {"data": {"name": "cond"}, "mark": {"type": "line", "color": "#ff0000", "strokeWidth": 3.5, "clip": true}, "encoding": {"x": {"field": "COND_RING", "type": "quantitative", "scale": {"domain": [0, 4000], "reverse": true}, "axis": {"orient": "top", "values": [0,400,800,1200,1600,2000,2400,2800,3200,3600,4000], "grid": true, "labels": false, "ticks": false, "domain": false, "title": null, "gridOpacity": 1, "gridColor": "#000000", "gridWidth": {"condition": {"test": "datum.value === 0 || datum.value === 2000 || datum.value === 4000", "value": 3.5}, "value": 1.5}}}, "order": {"field": "DEPTH", "type": "quantitative"}}},
                {"data": {"name": "callouts"}, "transform": [{"filter": "datum.track === 'cond'"}], "mark": {"type": "point", "shape": "M0,0L24,7L15,10L29,21L48,21L48,28L27,28L12,16L7,24Z", "size": 4, "filled": false, "strokeWidth": 1, "opacity": 1}, "encoding": {"x": {"field": "value", "type": "quantitative", "scale": {"domain": [0, 4000], "reverse": true}, "axis": null}, "color": {"field": "label", "type": "nominal", "scale": {"domain": ["GR_RAB","RES_BIT","RES_RING","RES_BD","COND_RING"], "range": ["#008000","#ff0000","#000000","#0000ff","#ff0000"]}, "legend": null}}},
                {"data": {"name": "callouts"}, "transform": [{"filter": "datum.track === 'cond'"}], "mark": {"type": "text", "fontSize": 20, "align": "left", "baseline": "middle", "dx": 59, "dy": 37}, "encoding": {"x": {"field": "value", "type": "quantitative", "scale": {"domain": [0, 4000], "reverse": true}, "axis": null}, "text": {"field": "label"}, "color": {"field": "label", "type": "nominal", "scale": {"domain": ["GR_RAB","RES_BIT","RES_RING","RES_BD","COND_RING"], "range": ["#008000","#ff0000","#000000","#0000ff","#ff0000"]}, "legend": null}}}
              ],
              "resolve": {"scale": {"x": "independent"}, "axis": {"x": "independent"}}
            }
          ],
          "spacing": 0, "bounds": "flush"
        }
      ],
      "spacing": 0
    }
  ]
}
